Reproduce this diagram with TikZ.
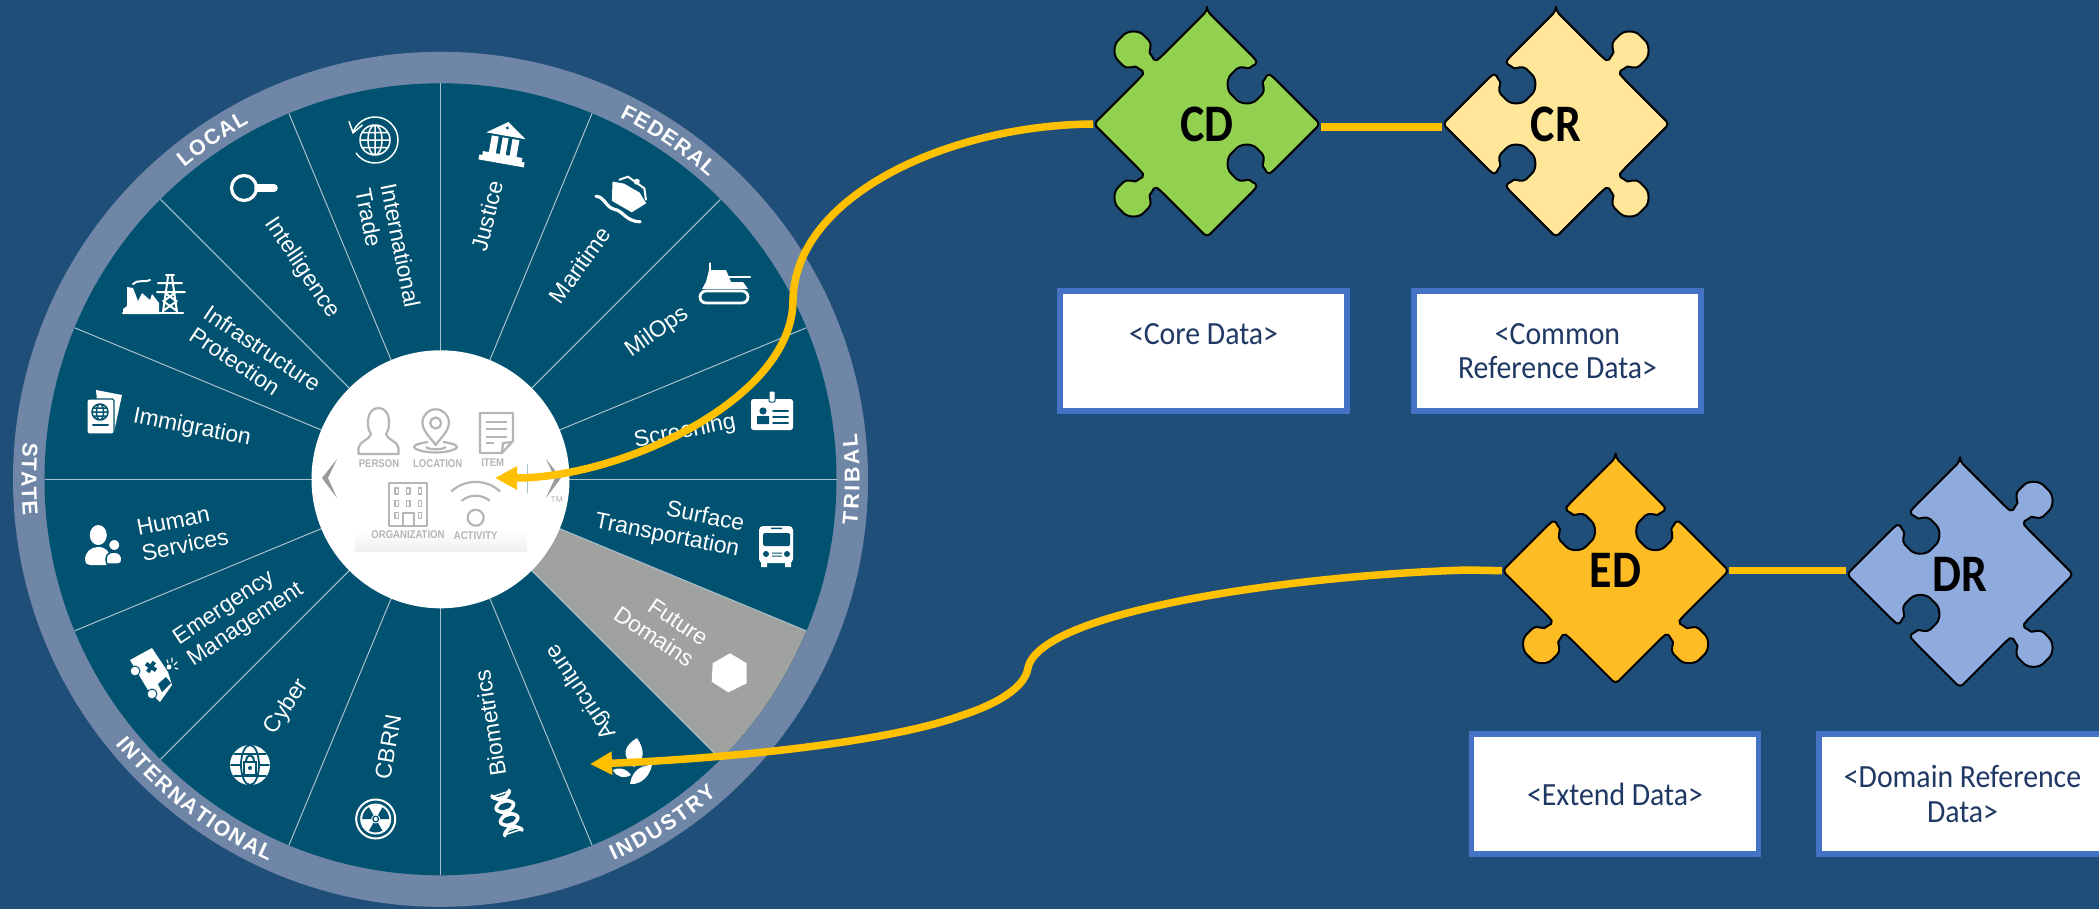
\documentclass[tikz,border=0pt]{standalone}
\usepackage{fontspec}
\setmainfont{Liberation Sans}
\newfontfamily\boxfont[FakeStretch=0.92]{Carlito}
\newfontfamily\pzfont[FakeStretch=0.87]{Carlito}
\newfontfamily\hubfont[FakeStretch=0.85]{Liberation Sans}
\usetikzlibrary{arrows.meta,shapes.geometric,decorations.text}

\definecolor{pagebg}{HTML}{1F4E79}
\definecolor{ringblue}{HTML}{6F86A7}
\definecolor{sectorblue}{HTML}{005270}
\definecolor{sectorline}{HTML}{A9C0CD}
\definecolor{futuregray}{HTML}{A0A29F}
\definecolor{hubgray}{HTML}{B5B5B5}
\definecolor{linkorange}{HTML}{FFC000}
\definecolor{boxblue}{HTML}{4472C4}
\definecolor{boxtext}{HTML}{203864}
\definecolor{pzgreen}{HTML}{92D050}
\definecolor{pzcream}{HTML}{FFE699}
\definecolor{pzamber}{HTML}{FDBC24}
\definecolor{pzblue}{HTML}{8FAADC}

\tikzset{
  sectorlabel/.style={text=white,inner sep=0pt,align=left,font=\fontsize{6.5}{7.3}\selectfont},
  ringtext/.style={decoration={text along path,text align=fit to path,text={|\fontsize{6.1}{7}\bfseries\color{white}|#1}},decorate},
  iconfill/.style={fill=white,draw=none},
  icondark/.style={fill=sectorblue,draw=none},
  iconline/.style={draw=white,line width=0.2mm,line cap=round,line join=round},
  darkline/.style={draw=sectorblue,line width=0.15mm,line cap=round},
  hubline/.style={draw=hubgray,line width=0.22mm,line join=round},
  hubtext/.style={text=hubgray,inner sep=0pt,font=\hubfont\fontsize{3.2}{3.4}\bfseries},
  pzlabel/.style={shape=diamond,minimum width=22.6mm,minimum height=22.6mm,inner sep=0pt,font=\pzfont\fontsize{15}{16}\bfseries},
  databox/.style={draw=boxblue,fill=white,line width=0.55mm,minimum width=28.7mm,minimum height=12mm,
    inner sep=0pt,align=center,text=boxtext,font=\boxfont\fontsize{9.2}{9.7}\selectfont},
  linkline/.style={draw=linkorange,line width=0.75mm},
  linkhead/.style={-{Triangle[length=2.2mm,width=2.2mm]}}
}

% one side of a puzzle piece: rotation, then 1 for a knob or -1 for a socket
\newcommand{\pzside}[2]{
  -- ([rotate=#1]-14,80)
  .. controls ([rotate=#1]-10,{80+(#2)*0.5}) and ([rotate=#1]-8,{80+(#2)*3}) .. ([rotate=#1]-9,{80+(#2)*7})
  .. controls ([rotate=#1]-10,{80+(#2)*12}) and ([rotate=#1]-18,{80+(#2)*15}) .. ([rotate=#1]-18,{80+(#2)*24})
  .. controls ([rotate=#1]-18,{80+(#2)*35}) and ([rotate=#1]-10,{80+(#2)*42}) .. ([rotate=#1]0,{80+(#2)*42})
  .. controls ([rotate=#1]10,{80+(#2)*42}) and ([rotate=#1]18,{80+(#2)*35}) .. ([rotate=#1]18,{80+(#2)*24})
  .. controls ([rotate=#1]18,{80+(#2)*15}) and ([rotate=#1]10,{80+(#2)*12}) .. ([rotate=#1]9,{80+(#2)*7})
  .. controls ([rotate=#1]8,{80+(#2)*3}) and ([rotate=#1]10,{80+(#2)*0.5}) .. ([rotate=#1]14,80)
  -- ([rotate=#1]80,80)
}
\newcommand{\puzzlepiece}[9]{
  \begin{scope}[shift={(#2,#3)},y=0.01cm]
    \filldraw[draw=black,line width=0.2mm,fill=#4,rounded corners=0.4mm,line join=round]
      ([rotate=-45]-80,80) \pzside{-45}{#5} \pzside{-135}{#6} \pzside{-225}{#7} \pzside{-315}{#8} -- cycle;
  \end{scope}
  \node[pzlabel] (#1) at (#2,#3) {#9};
}

\begin{document}
\begin{tikzpicture}[x=0.01cm,y=-0.01cm]
  \useasboundingbox (0,0) rectangle (2099,909);
  \fill[pagebg] (0,0) rectangle (2099,909);

  % wheel
  \begin{scope}[shift={(440.5,479.3)},y=0.01cm]
    \fill[ringblue] (0,0) circle (427.5);
    \fill[sectorblue] (0,0) circle (396);
    \fill[futuregray] (-22.5:129) -- (-22.5:396) arc (-22.5:-45:396) -- (-45:129) -- cycle;
    \foreach \a in {0,22.5,...,337.5}
    {
      \draw[sectorline,line width=0.1mm] (\a:125) -- (\a:396);
    }
    \path[ringtext=LOCAL] (129.4:404) arc (129.4:118.3:404);
    \path[ringtext=FEDERAL] (63.7:404) arc (63.7:48.4:404);
    \path[ringtext=TRIBAL] (-6.3:419) arc (-6.3:6.3:419);
    \path[ringtext=STATE] (175:419) arc (175:185:419);
    \path[ringtext=INTERNATIONAL] (219.2:419) arc (219.2:245.8:419);
    \path[ringtext=INDUSTRY] (-65.6:419) arc (-65.6:-48.7:419);
    \fill[white] (0,0) circle (129);
  \end{scope}

  % sector labels
  \node[sectorlabel,rotate=76] (justice) at (487,216) {Justice};
  \node[sectorlabel,rotate=54] (maritime) at (580,265) {Maritime};
  \node[sectorlabel,rotate=35] (milops) at (657,332) {MilOps};
  \node[sectorlabel,rotate=11.25] (screening) at (685,432) {Screening};
  \node[sectorlabel,rotate=-11.25,align=right] (surface) at (669.5,523.7) {Surface\\Transportation};
  \node[sectorlabel,rotate=-33.75,align=right] (future) at (661,626) {Future\\Domains};
  \node[sectorlabel,rotate=123.75] (agriculture) at (581.7,691.7) {Agriculture};
  \node[sectorlabel,rotate=99] (biometrics) at (490,723) {Biometrics};
  \node[sectorlabel,rotate=80] (cbrn) at (388,747) {CBRN};
  \node[sectorlabel,rotate=56.25] (cyber) at (287,707) {Cyber};
  \node[sectorlabel,rotate=33.75] (emergency) at (238.7,614.3) {Emergency\\Management};
  \node[sectorlabel,rotate=11.25] (human) at (182.5,532.3) {Human\\Services};
  \node[sectorlabel,rotate=-11.25] (immigration) at (192,428) {Immigration};
  \node[sectorlabel,rotate=-33.75] (infra) at (255.3,359) {Infrastructure\\Protection};
  \node[sectorlabel,rotate=-56.25] (intelligence) at (302,268) {Intelligence};
  \node[sectorlabel,rotate=-78.75] (trade) at (388,248) {International\\Trade};

  % trade globe
  \begin{scope}[shift={(375,140)},y=0.01cm]
    \draw[iconline,line width=0.15mm] (0,0) circle (15) (0,0) ellipse (7 and 15) (-15,0) -- (15,0) (-13,7.5) -- (13,7.5) (-13,-7.5) -- (13,-7.5) (0,-15) -- (0,15);
    \draw[iconline,line width=0.15mm,-{Straight Barb[length=1mm,width=1.4mm]}] (215:23) arc (215:525:23);
  \end{scope}
  % magnifier
  \draw[iconline,line width=0.32mm] (244,188) circle (12.5);
  \draw[iconline,line width=0.75mm] (258,188) -- (274,188);
  % factory and pylon
  \fill[iconfill] (127,287) -- (133,288) -- (138,301) -- (142,293) -- (150,300) -- (152,294) -- (159,303) -- (159,314) -- (123,314) -- (123,309) -- (127,306) -- cycle;
  \draw[iconline] (133,284) .. controls (138,279) and (143,283) .. (150,280);
  \draw[iconline,line width=0.25mm] (123,313) -- (183,313);
  \draw[iconline] (168,277) -- (163,312) (172,277) -- (177,312) (166,275) -- (174,275) (158,283) -- (182,283) (157,292) -- (185,292) (164,301) -- (176,292) (164,292) -- (176,301) (163,311) -- (177,301) (163,301) -- (177,311);
  % passport
  \fill[iconfill] (96,390) -- (122,395) -- (114,432) -- (100,432) -- cycle;
  \filldraw[fill=white,draw=sectorblue,line width=0.12mm,rounded corners=0.15mm] (87,399) rectangle (114,434);
  \draw[darkline] (100,412) circle (8) (100,412) ellipse (3.5 and 8) (92,412) -- (108,412) (93,408) -- (107,408) (93,416) -- (107,416);
  \draw[darkline,line width=0.2mm] (93,424.5) -- (108,424.5);
  % people
  \fill[iconfill] (98.3,535) ellipse (8.5 and 10);
  \fill[iconfill] (85,560) .. controls (85,552) and (91,547) .. (98,547) .. controls (106,547) and (110,552) .. (110,558) -- (108,565) -- (90,565) .. controls (87,565) and (85,563) .. (85,560) -- cycle;
  \filldraw[fill=white,draw=sectorblue,line width=0.15mm] (107,564) .. controls (104,556) and (108,552) .. (114,552) .. controls (120,552) and (122,556) .. (122,560) .. controls (122,563) and (120,564) .. (118,564) -- cycle;
  \filldraw[fill=white,draw=sectorblue,line width=0.15mm] (114.3,545) circle (5.8);
  % ambulance
  \fill[iconfill] (130,660) -- (152,648) -- (168,672) -- (172,685) -- (160,702) -- (148,690) -- cycle;
  \filldraw[fill=white,draw=sectorblue,line width=0.1mm] (135,671) circle (5) (152,694) circle (5);
  \begin{scope}[shift={(151,667)},rotate=-33]
    \fill[icondark] (-2,-6) rectangle (2,6) (-6,-2) rectangle (6,2);
  \end{scope}
  \fill[icondark] (166,677) -- (171,683) -- (162,692) -- (158,684) -- cycle;
  \fill[iconfill] (169,667) circle (2.5);
  \draw[iconline,line width=0.12mm] (167,660) -- (168,663) (172,658) -- (172,662) (177,662) -- (174,665) (178,669) -- (175,668);
  % cyber globe
  \fill[iconfill] (250,765) circle (20);
  \draw[darkline,line width=0.18mm] (250,765) ellipse (9 and 20) (231,765) -- (240,765) (260,765) -- (269,765) (234,754) -- (266,754) (234,776) -- (266,776);
  \filldraw[fill=white,draw=sectorblue,line width=0.18mm] (244,762) rectangle (256,775);
  \draw[darkline,line width=0.2mm] (246,762) .. controls (246,753) and (254,753) .. (254,762);
  \fill[icondark] (250,768) circle (2);
  % radiation
  \begin{scope}[shift={(375.7,819)},y=0.01cm]
    \draw[iconline,line width=0.2mm] (0,0) circle (19.5);
    \fill[iconfill] (0,0) circle (15.5);
    \foreach \a in {30,150,270}
    {
      \fill[icondark] ({\a-30}:4.5) arc ({\a-30}:{\a+30}:4.5) -- ({\a+30}:13.5) arc ({\a+30}:{\a-30}:13.5) -- cycle;
    }
    \fill[icondark] (0,0) circle (3.5);
    \fill[iconfill] (0,0) circle (2);
  \end{scope}
  % dna
  \begin{scope}[shift={(507,813)},rotate=-72]
    \draw[iconline,line width=0.36mm] plot[domain=-21:21,samples=30] (\x,{9*sin(\x*13)});
    \draw[iconline,line width=0.36mm] plot[domain=-21:21,samples=30] (\x,{-9*sin(\x*13)});
    \foreach \p in {-20,-17,-14,-11,-3,0,3,11,14,17,20}
    {
      \draw[iconline,line width=0.15mm] (\p,{9*sin(\p*13)}) -- (\p,{-9*sin(\p*13)});
    }
  \end{scope}
  % leaves
  \fill[iconfill] (634,767) .. controls (620,755) and (625,745) .. (637,738) .. controls (645,750) and (645,760) .. (634,767) -- cycle;
  \fill[iconfill] (630,784) .. controls (632,770) and (642,765) .. (652,765) .. controls (650,775) and (642,785) .. (630,784) -- cycle;
  \fill[iconfill] (613,770) .. controls (618,767) and (626,768) .. (631,775) .. controls (624,779) and (616,777) .. (613,770) -- cycle;
  % future hexagon
  \fill[iconfill] (730,653.3) -- (746.7,663.3) -- (746.7,683.3) -- (728.3,692.3) -- (711.7,681.7) -- (712.7,663.3) -- cycle;
  % bus
  \fill[iconfill,rounded corners=0.4mm] (759,526) rectangle (793,563);
  \fill[iconfill] (761,560) rectangle (767,567) (785,560) rectangle (791,567);
  \fill[icondark,rounded corners=0.15mm] (763,533) rectangle (790,546);
  \fill[icondark] (766,554) circle (3) (787,554) circle (3) (772,552.5) rectangle (782,553.5) (772,555.5) rectangle (782,556.5) (771,527.5) rectangle (782,529);
  % badge
  \fill[iconfill,rounded corners=0.25mm] (751,399) rectangle (793,430);
  \filldraw[fill=white,draw=sectorblue,line width=0.1mm,rounded corners=0.1mm] (769,391) rectangle (775,402);
  \fill[icondark] (763,411) circle (3.6) (757,416) rectangle (769,424);
  \draw[darkline,line width=0.2mm] (773,411) -- (788,411) (773,417) -- (788,417) (773,423) -- (788,423);
  % tank
  \filldraw[fill=sectorblue,draw=white,line width=0.28mm,rounded corners=0.6mm] (700,291) rectangle (748,303);
  \fill[iconfill] (702,289) -- (706,282) -- (743,282) -- (748,289) -- cycle;
  \fill[iconfill] (706,282) -- (709,270) -- (726,270) -- (731,282) -- cycle;
  \draw[iconline,line width=0.25mm] (729,277) -- (750,277);
  \draw[iconline,line width=0.12mm] (710,263) -- (710,270);
  % ship
  \begin{scope}[shift={(625,198)},rotate=-30]
    \fill[iconfill] (-19,-8) -- (-8,-12) -- (10,-12) -- (21,-6) -- (13,9) -- (-10,9) -- cycle;
    \draw[iconline,line width=0.2mm] (-14,-13) -- (-8,-20) -- (12,-18) -- (19,-9);
    \fill[iconfill] (2,-20) circle (3);
    \draw[iconline,line width=0.32mm] (-26,13) .. controls (-18,9) and (-12,18) .. (-3,15) .. controls (5,12) and (12,20) .. (25,13);
  \end{scope}
  % bank
  \begin{scope}[shift={(504.6,143.7)},rotate=-10]
    \fill[iconfill] (-20,-8) -- (0,-22) -- (20,-8) -- cycle;
    \fill[iconfill] (-14,-6) rectangle (-7,11) (-3,-6) rectangle (3,11) (7,-6) rectangle (14,11) (-20,11) rectangle (20,15) (-23,15) rectangle (23,20);
    \fill[icondark] (0,-16) circle (1.6);
  \end{scope}

  % hub panel
  \shade[top color=white,bottom color=black!6] (355,530) rectangle (527,551);
  \draw[hubline] (358.5,454) -- (398.5,454) -- (398.5,448) .. controls (398,441) and (387,440) .. (386,434) .. controls (391,428) and (391,408) .. (378.5,408) .. controls (366,408) and (366,428) .. (371,434) .. controls (370,440) and (359,441) .. (358.5,448) -- cycle;
  \draw[hubline] (435.7,445) .. controls (430,437) and (422.5,431) .. (422.5,422.5) arc (180:360:13.2) .. controls (448.9,431) and (441.4,437) .. (435.7,445) -- cycle;
  \draw[hubline] (435.7,423) circle (5.5);
  \draw[hubline] (428,442) .. controls (400,446) and (420,452.5) .. (435.7,452.5) .. controls (451,452.5) and (471,446) .. (443,442);
  \draw[hubline] (426,447) .. controls (428,450) and (443,450) .. (446,447);
  \draw[hubline] (480,413) -- (513,413) -- (513,441) -- (502,453) -- (480,453) -- cycle;
  \draw[hubline] (513,442) -- (503,443) -- (502,453);
  \draw[hubline] (486,421.7) -- (507,421.7) (486,429) -- (507,429) (486,436.7) -- (507,436.7) (486,443) -- (494,443);
  \draw[hubline] (389,483) rectangle (427,526);
  \foreach \wx in {396.7,408.3,420}
  {
    \foreach \wy in {491,503.3}
    {
      \draw[hubline,line width=0.15mm] (\wx-1.7,\wy-3) rectangle (\wx+1.7,\wy+3);
    }
  }
  \draw[hubline,line width=0.15mm] (395,512.7) rectangle (398.4,518.7) (418.3,512.7) rectangle (421.7,518.7);
  \draw[hubline] (402.7,526) -- (402.7,512.7) -- (414,512.7) -- (414,526);
  \draw[hubline] (475.7,517.7) circle (8);
  \draw[hubline] (475.7,517.7) ++(230:22) arc (230:310:22);
  \draw[hubline] (475.7,517.7) ++(227:35.8) arc (227:313:35.8);
  \node[hubtext] (person) at (379,464) {PERSON};
  \node[hubtext] (location) at (437.7,464) {LOCATION};
  \node[hubtext] (item) at (492.7,462.7) {ITEM};
  \node[hubtext] (organization) at (408,534.7) {ORGANIZATION};
  \node[hubtext] (activity) at (475.7,535.7) {ACTIVITY};
  \fill[hubgray!85!black] (337,459) -- (322,478) -- (337,498) -- (328,478) -- cycle;
  \fill[hubgray!85!black] (546,459) -- (561,478) -- (546,498) -- (555,478) -- cycle;
  \draw[sectorline,line width=0.12mm] (527.7,464) -- (527.7,493);
  \node[hubtext,font=\fontsize{2.4}{3}\selectfont] (trademark) at (556.7,500) {TM};

  % puzzle pieces
  \puzzlepiece{cd}{1207}{124}{pzgreen}{-1}{-1}{1}{1}{CD}
  \puzzlepiece{cr}{1556}{124}{pzcream}{1}{1}{-1}{-1}{CR}
  \puzzlepiece{ed}{1615.6}{570.7}{pzamber}{-1}{1}{1}{-1}{ED}
  \puzzlepiece{dr}{1960}{574.3}{pzblue}{1}{1}{-1}{-1}{DR}

  % data boxes
  \node[databox] (coredata) at (1203.5,351) {<Core Data>\\\mbox{}};
  \node[databox] (commondata) at (1557.5,351) {<Common\\Reference Data>};
  \node[databox] (extenddata) at (1615,794) {<Extend Data>};
  \node[databox] (domaindata) at (1962.5,794) {<Domain Reference\\Data>};

  % connectors
  \coordinate (hubtip) at (495,478);
  \coordinate (agritip) at (590,764);
  \draw[linkline] ([yshift=-0.03cm]cd.east) -- ([yshift=-0.03cm]cr.west);
  \draw[linkline] (ed.east) -- (ed.east -| dr.west);
  \draw[linkline,linkhead] (cd.west) .. controls (950,125) and (795,195) .. (793,300) .. controls (793,400) and (620,478) .. (hubtip);
  \draw[linkline,linkhead] (ed.west) -- (1467,570) .. controls (1300,575) and (1040,610) .. (1028,668) .. controls (1024,692) and (985,708) .. (960,716) .. controls (880,745) and (700,760) .. (agritip);
\end{tikzpicture}
\end{document}
